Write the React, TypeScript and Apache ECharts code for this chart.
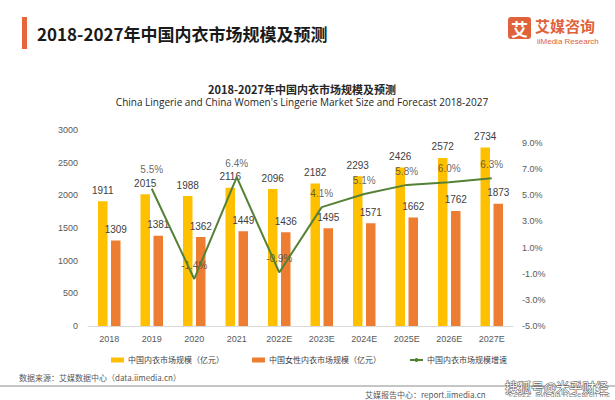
import React, { useEffect, useRef } from "react";
import * as echarts from "echarts";

const categories = ["2018", "2019", "2020", "2021", "2022E", "2023E", "2024E", "2025E", "2026E", "2027E"];
const lingerieSize = [1911, 2015, 1988, 2116, 2096, 2182, 2293, 2426, 2572, 2734];
const womenLingerieSize = [1309, 1381, 1362, 1449, 1436, 1495, 1571, 1662, 1762, 1873];
const growthRate: (number | string)[] = ["-", 5.5, -1.4, 6.4, -0.9, 4.1, 5.1, 5.8, 6.0, 6.3];
const seriesNames = ["中国内衣市场规模（亿元）", "中国女性内衣市场规模（亿元）", "中国内衣市场规模增速"];

const FONT = "'Liberation Sans', 'Noto Sans CJK SC', sans-serif";
const CJK = "'Noto Sans CJK SC', 'Liberation Sans', sans-serif";

export default function App() {
  const ref = useRef<HTMLDivElement>(null);
  useEffect(() => {
    if (!ref.current) return;
    const chart = echarts.init(ref.current, null, { renderer: "svg" });
    const growthLabelData = growthRate.map((v, i) =>
      i === 1 ? { value: v, label: { distance: 14 } } : v
    );
    chart.setOption({
      animation: false,
      backgroundColor: "#ffffff",
      textStyle: { fontFamily: FONT },
      title: {
        text: "2018-2027年中国内衣市场规模及预测",
        subtext: "China Lingerie and China Women's Lingerie Market Size and Forecast 2018-2027",
        left: 297,
        textAlign: "center",
        top: 78,
        itemGap: 3,
        textStyle: { fontSize: 11, fontWeight: "bold", color: "#262626", fontFamily: CJK },
        subtextStyle: { fontSize: 10, color: "#262626", fontFamily: "'Open Sans', sans-serif" },
      },
      legend: {
        data: [
          { name: seriesNames[0], icon: "rect" },
          { name: seriesNames[1], icon: "rect" },
          { name: seriesNames[2] },
        ],
        left: 106,
        top: 351,
        itemWidth: 13,
        itemHeight: 5,
        itemGap: 28,
        textStyle: { fontSize: 8, color: "#404040", fontFamily: CJK, padding: [0, 0, 0, -1] },
      },
      grid: { left: 88, right: 102, top: 130, bottom: 74 },
      xAxis: {
        type: "category",
        data: categories,
        axisLine: { lineStyle: { color: "#D9D9D9" } },
        axisTick: { show: false },
        axisLabel: { fontSize: 9, color: "#595959", margin: 8 },
      },
      yAxis: [
        {
          type: "value",
          min: 0,
          max: 3000,
          interval: 500,
          axisLine: { show: false },
          axisTick: { show: false },
          splitLine: { show: false },
          axisLabel: { fontSize: 9, color: "#595959", margin: 10, formatter: (v: number) => String(v) },
        },
        {
          type: "value",
          min: -5,
          max: 10,
          interval: 2,
          position: "right",
          axisLine: { show: false },
          axisTick: { show: false },
          splitLine: { show: false },
          axisLabel: {
            fontSize: 9,
            color: "#595959",
            margin: 9,
            showMaxLabel: false,
            formatter: (v: number) => (v > 9.5 ? "" : v.toFixed(1) + "%"),
          },
        },
      ],
      series: [
        {
          name: seriesNames[0],
          type: "bar",
          data: lingerieSize,
          barWidth: 9.5,
          barGap: "37%",
          itemStyle: { color: "#FFC000" },
          label: { show: true, position: "top", distance: 6, fontSize: 10, color: "#404040" },
        },
        {
          name: seriesNames[1],
          type: "bar",
          data: womenLingerieSize,
          barWidth: 9.5,
          itemStyle: { color: "#ED7D31" },
          label: { show: true, position: "top", distance: 6, fontSize: 10, color: "#404040" },
        },
        {
          name: seriesNames[2],
          type: "line",
          yAxisIndex: 1,
          data: growthRate,
          symbol: "none",
          lineStyle: { color: "#548235", width: 2 },
          itemStyle: { color: "#548235" },
        },
        {
          name: "growthLabels",
          type: "scatter",
          yAxisIndex: 1,
          data: growthLabelData,
          symbolSize: 1,
          itemStyle: { color: "rgba(0,0,0,0)" },
          silent: true,
          label: {
            show: true,
            position: "top",
            distance: 8,
            fontSize: 10,
            color: "#404040",
            formatter: (p: any) => Number(p.value).toFixed(1) + "%",
          },
        },
      ],
      graphic: [
        { type: "rect", shape: { x: 22, y: 17, width: 5, height: 32 }, style: { fill: "#E8643A" } },
        {
          type: "text",
          x: 37,
          y: 33,
          style: {
            text: "2018-2027年中国内衣市场规模及预测",
            fontSize: 17,
            fontWeight: "bold",
            fill: "#1a1a1a",
            fontFamily: CJK,
            verticalAlign: "middle",
          },
        },
        { type: "rect", shape: { x: 508, y: 17, width: 23, height: 22, r: 3 }, style: { fill: "#E0623A" } },
        {
          type: "text",
          x: 519.5,
          y: 28.5,
          style: { text: "艾", fontSize: 17, fontWeight: "bold", fill: "#ffffff", fontFamily: CJK, align: "center", verticalAlign: "middle" },
        },
        {
          type: "text",
          x: 535,
          y: 25,
          style: { text: "艾媒咨询", fontSize: 15, fontWeight: "bold", fill: "#E0623A", fontFamily: CJK, verticalAlign: "middle" },
        },
        {
          type: "text",
          x: 537,
          y: 41,
          style: { text: "iiMedia Research", fontSize: 8, fill: "#E0623A", fontFamily: FONT, verticalAlign: "middle" },
        },
        {
          type: "text",
          x: 19,
          y: 377,
          style: { text: "数据来源：艾媒数据中心（data.iimedia.cn）", fontSize: 8, fill: "#595959", fontFamily: CJK, verticalAlign: "middle" },
        },
        { type: "line", shape: { x1: 0, y1: 386, x2: 615, y2: 386 }, style: { stroke: "#8c8c8c", lineWidth: 1 } },
        {
          type: "text",
          x: 365,
          y: 394,
          style: { text: "艾媒报告中心：report.iimedia.cn", fontSize: 8, fill: "#595959", fontFamily: CJK, verticalAlign: "middle" },
        },
        {
          type: "text",
          x: 610,
          y: 394,
          style: { text: "©2022  iiMedia Research Inc", fontSize: 8, fill: "#8c8c8c", fontFamily: FONT, align: "right", verticalAlign: "middle" },
        },
        {
          type: "text",
          x: 505,
          y: 386,
          style: {
            text: "搜狐号@米乎财经",
            fontSize: 13,
            fill: "#ffffff",
            stroke: "#555555",
            lineWidth: 1,
            fontFamily: CJK,
            verticalAlign: "middle",
          },
        },
      ],
    });
    return () => chart.dispose();
  }, []);
  return <div ref={ref} style={{ position: "fixed", left: 0, top: 0, width: 615, height: 400 }} />;
}
